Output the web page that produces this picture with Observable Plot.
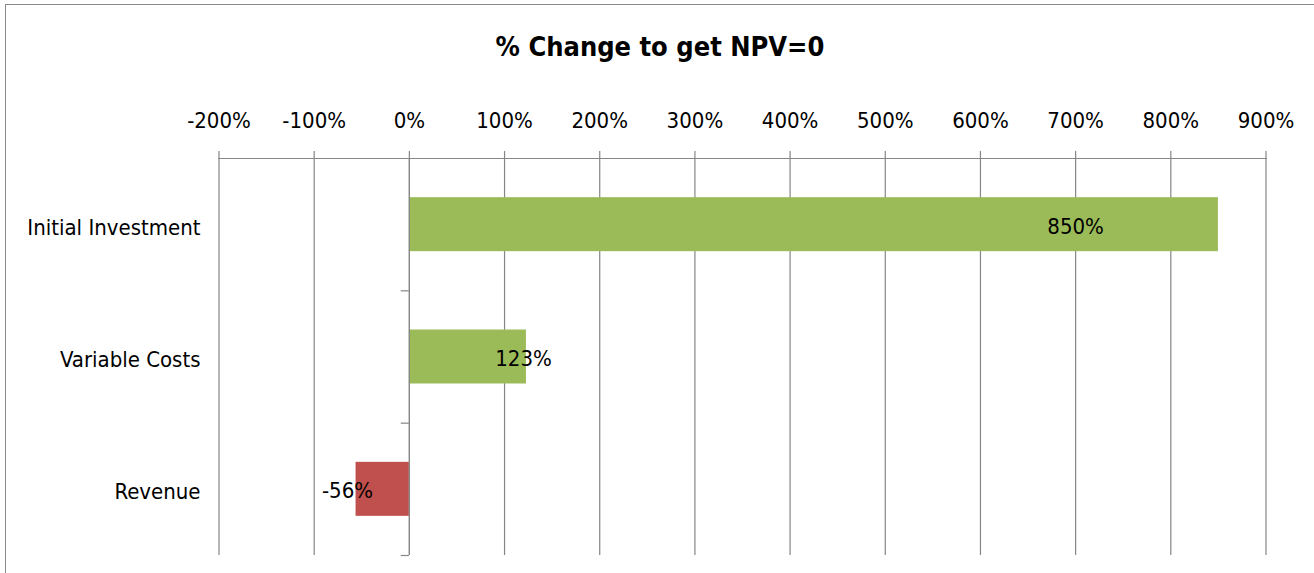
<!DOCTYPE html>
<html>
<head>
<meta charset="utf-8">
<script src="https://cdn.jsdelivr.net/npm/d3@7"></script>
<script src="https://cdn.jsdelivr.net/npm/@observablehq/plot@0.6"></script>
<style>
  html, body { margin: 0; padding: 0; background: #fff; }
  #wrap { position: relative; width: 1314px; height: 573px; overflow: hidden; font-family: "DejaVu Sans Condensed", sans-serif; background: #fff; }
  #frame { position: absolute; left: 5px; top: 4px; right: -10px; bottom: -10px; border-left: 1.5px solid #8a8a8a; border-top: 1.5px solid #8a8a8a; }
  #title { position: absolute; left: 0; top: 0; width: 1320px; height: 90px; box-sizing: border-box; padding-top: 33px; text-align: center; font-weight: bold; font-size: 27px; line-height: 27px; color: #000; }
  #chart { position: absolute; left: 0; top: 90px; }
  #chart svg { background: transparent !important; }
</style>
</head>
<body>
<div id="wrap">
  <div id="frame"></div>
  <div id="title">% Change to get NPV=0</div>
  <div id="chart"></div>
</div>
<script>
const categories = ["Initial Investment", "Variable Costs", "Revenue"];
const values = [850, 123, -56];
const labelAt = [700, 120, -65];
const xTicks = [-200, -100, 0, 100, 200, 300, 400, 500, 600, 700, 800, 900];
const colors = values.map(v => v >= 0 ? "#9BBB59" : "#C0504D");

const data = categories.map((c, i) => ({cat: c, i, value: values[i], lx: labelAt[i], color: colors[i]}));
const half = 0.204;
const boundaries = [0.5, 1.5, 2.5];

const plot = Plot.plot({
  width: 1314,
  height: 483,
  marginTop: 68,
  marginBottom: 18,
  marginLeft: 218.5,
  marginRight: 48.5,
  style: {fontFamily: '"DejaVu Sans Condensed", sans-serif', fontSize: "22px", color: "#000", background: "transparent"},
  x: {domain: [-200, 900]},
  y: {domain: [2.5, -0.5]},
  marks: [
    Plot.gridX(xTicks, {stroke: "#868686", strokeOpacity: 1, strokeWidth: 1.2}),
    Plot.frame({anchor: "top", stroke: "#868686", strokeWidth: 1.2}),
    Plot.axisX({anchor: "top", ticks: xTicks, tickFormat: d => d + "%", tickSize: 8, tickPadding: 23, stroke: "#868686", strokeWidth: 1.2, fill: "#000", fontSize: 22, label: null}),
    Plot.axisY({anchor: "left", ticks: [0, 1, 2], tickFormat: i => categories[i], tickSize: 0, tickPadding: 18.5, fontSize: 22, fill: "#000", dy: 3, label: null}),
    Plot.rectX(data, {x1: 0, x2: "value", y1: d => d.i - half, y2: d => d.i + half, fill: "color"}),
    Plot.ruleX([0], {stroke: "#868686", strokeWidth: 1.2}),
    Plot.ruleY(boundaries, {x1: -8.5, x2: 0, stroke: "#868686", strokeWidth: 1.2}),
    Plot.text(data, {x: "lx", y: "i", text: d => d.value + "%", fontSize: 22, fill: "#000", dy: 2})
  ]
});
document.getElementById("chart").appendChild(plot);
</script>
</body>
</html>
